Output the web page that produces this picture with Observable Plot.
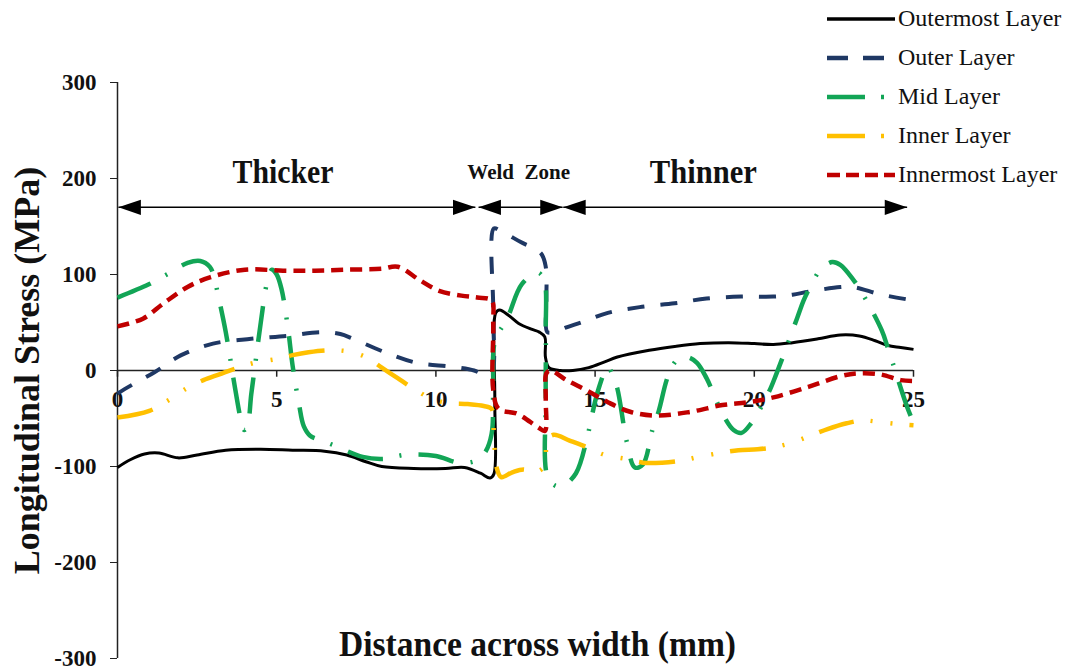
<!DOCTYPE html>
<html><head><meta charset="utf-8">
<script src="https://cdn.jsdelivr.net/npm/d3@7"></script>
<script src="https://cdn.jsdelivr.net/npm/@observablehq/plot@0.6"></script>
<style>
html,body{margin:0;padding:0;background:#fff;}
#wrap{position:relative;width:1069px;height:671px;font-family:"Liberation Serif","Times New Roman",serif;color:#111;}
#legend{position:absolute;left:826px;top:-1px;}
.row{display:flex;align-items:center;height:39px;}
.row span{font-size:24px;margin-left:2px;white-space:nowrap;}
</style></head><body><div id="wrap"><div id="legend"></div></div>
<script>
// ---- data ----
const seriesNames = ["Outermost Layer", "Outer Layer", "Mid Layer", "Inner Layer", "Innermost Layer"];

const outermost = [[0,-101],[0.4,-93],[0.85,-87],[1.3,-86],[1.9,-91],[2.5,-88],[3.4,-83],[4.5,-82],[5.5,-83],[6.5,-84],[7.2,-88],[7.8,-95],[8.3,-100],[9.3,-102],[10.3,-102],[10.9,-101],[11.4,-107],[11.7,-112],[11.82,-108],[11.85,-30],[11.88,60],[12.0,63],[12.3,57],[12.6,49],[13.0,43],[13.25,40],[13.42,35],[13.44,14],[13.55,3],[13.9,0],[14.3,0],[14.8,3],[15.3,9],[15.7,14],[16.7,21],[17.5,25],[18.3,28],[19.2,29],[20.0,28],[20.6,27],[21.2,29],[22.0,33],[22.7,37],[23.3,36],[23.8,31],[24.2,26],[24.6,24],[25,22]];

const outer = [[0,-24],[0.4,-16],[1.15,-2],[2.0,16],[3.0,28],[4.2,33],[5.3,36],[6.4,40],[7.0,38],[7.4,33],[8.4,19],[9.4,8],[10.5,4],[11.2,0],[11.55,-5],[11.75,-3],[11.8,60],[11.82,148],[12.0,146],[12.65,134],[13.3,122],[13.45,108],[13.47,70],[13.5,40],[13.7,40],[14.1,45],[14.55,50],[15.4,60],[16.4,66],[17.5,70],[18.5,75],[19.6,77],[20.6,77],[21.2,79],[21.7,82],[22.7,87],[23.1,87],[24.0,79],[25,73]];

const mid = [[0,76],[1.0,90],[1.6,101],[2.2,112],[2.6,114],[2.9,108],[3.05,95],[3.15,80],[3.4,40],[3.7,-20],[3.88,-52],[3.98,-62],[4.08,-58],[4.2,-25],[4.3,0],[4.5,50],[4.7,92],[4.85,105],[5.0,100],[5.15,85],[5.35,45],[5.5,5],[5.7,-35],[5.85,-58],[6.05,-68],[6.4,-73],[6.8,-78],[7.7,-90],[8.4,-92],[9.0,-88],[10.0,-89],[10.7,-96],[11.25,-94],[11.55,-85],[11.75,-66],[11.8,-20],[11.85,30],[12.25,55],[12.7,90],[13.2,102],[13.4,94],[13.45,40],[13.45,-30],[13.5,-110],[13.75,-120],[14.0,-120],[14.4,-107],[14.75,-70],[14.9,-47],[15.1,-20],[15.4,4],[15.55,-5],[15.7,-19],[16.0,-75],[16.25,-101],[16.5,-98],[16.8,-62],[17.0,-42],[17.3,-5],[17.6,12],[17.9,14],[18.2,8],[18.5,-8],[19.0,-45],[19.35,-62],[19.6,-65],[19.9,-55],[20.45,-23],[20.7,-3],[21.35,55],[21.55,73],[21.8,90],[22.1,106],[22.45,113],[22.7,110],[23.1,95],[23.4,80],[24.0,42],[24.2,23],[24.8,-38],[25.0,-54]];

const inner = [[0,-49],[1.0,-42],[1.6,-31],[2.15,-19],[2.7,-10],[3.2,-4],[3.7,2],[4.3,8],[5.0,12],[5.5,16],[6.0,19],[6.6,21],[7.2,20],[7.8,14],[8.3,3],[8.8,-8],[9.3,-19],[9.9,-30],[10.4,-34],[11.0,-35],[11.5,-37],[11.75,-40],[11.82,-66],[11.9,-100],[12.05,-111],[12.4,-106],[12.75,-103],[13.1,-106],[13.4,-100],[13.5,-72],[13.7,-67],[14.2,-73],[14.6,-78],[15.3,-88],[15.95,-92],[16.5,-96],[17.1,-96],[17.7,-94],[18.25,-90],[18.9,-86],[19.5,-83],[20.1,-82],[20.6,-80],[21.2,-75],[21.75,-68],[22.3,-61],[22.9,-55],[23.4,-52],[24.0,-54],[24.6,-56],[25.0,-57]];

const innermost = [[0,46],[0.8,54],[1.45,70],[2.2,87],[2.9,97],[4.0,105],[5.2,104],[6.2,104],[7.2,105],[8.3,106],[8.8,108],[9.5,94],[10.1,83],[10.8,78],[11.3,76],[11.75,73],[11.8,50],[11.8,-20],[11.97,-40],[12.55,-45],[13.2,-59],[13.42,-63],[13.45,-30],[13.47,-3],[13.6,0],[14.1,-10],[14.75,-21],[15.4,-33],[16.1,-43],[16.95,-47],[18.0,-43],[19.0,-36],[19.8,-33],[20.6,-28],[21.7,-17],[22.7,-6],[23.25,-3],[23.95,-4],[24.6,-10],[25,-11]];

const xTicks = [0, 5, 10, 15, 20, 25];
const yTicks = [-300, -200, -100, 0, 100, 200, 300];

const regionLabels = ["Thicker", "Weld\u00a0\u00a0Zone", "Thinner"];
const regionStart = [0.03, 11.34, 14.0];
const regionEnd = [11.24, 13.98, 24.8];
const regionLabelX = [5.2, 12.6, 18.4];
const arrowLevel = 170;
const labelLevel = 206;

const yTitle = "Longitudinal Stress (MPa)";
const xTitle = "Distance across width (mm)";

// ---- styles ----
const styles = [
  {stroke: "#000000", strokeWidth: 3, dash: null},
  {stroke: "#1f3864", strokeWidth: 4, dash: "17 16"},
  {stroke: "#12a556", strokeWidth: 4.5, dash: "36 17 2 17"},
  {stroke: "#ffc000", strokeWidth: 4.5, dash: "36 17 2 18 2 17"},
  {stroke: "#c00000", strokeWidth: 4.5, dash: "12 7"}
];
const legendDash = [null, "21 15", "38 16 3 40", "38 16 3 40", "13 6"];

const seriesPts = [outermost, outer, mid, inner, innermost];
const table = seriesPts.flatMap((pts, k) => pts.map(([x, y]) => ({series: seriesNames[k], x, y})));
const regions = regionLabels.map((label, i) => ({label, start: regionStart[i], end: regionEnd[i], lx: regionLabelX[i]}));

const triRight = {draw(ctx, size) { const r = Math.sqrt(size / Math.PI); const L = 2.8 * r, H = 0.95 * r; ctx.moveTo(0, 0); ctx.lineTo(-L, -H); ctx.lineTo(-L, H); ctx.closePath(); }};
const triLeft = {draw(ctx, size) { const r = Math.sqrt(size / Math.PI); const L = 2.8 * r, H = 0.95 * r; ctx.moveTo(0, 0); ctx.lineTo(L, -H); ctx.lineTo(L, H); ctx.closePath(); }};

const font = '"Liberation Serif","Times New Roman",serif';

const lineMarks = seriesNames.map((name, k) => Plot.line(table.filter(d => d.series === name), {
  x: "x", y: "y", curve: "catmull-rom",
  stroke: styles[k].stroke, strokeWidth: styles[k].strokeWidth,
  strokeDasharray: styles[k].dash || undefined, strokeLinecap: "butt", strokeLinejoin: "round"
}));

const chart = Plot.plot({
  width: 1069, height: 671,
  marginLeft: 117, marginRight: 156, marginTop: 82, marginBottom: 13,
  x: {domain: [0, 25], axis: null},
  y: {domain: [-300, 300], label: null},
  style: {fontFamily: font, background: "transparent", overflow: "visible", color: "#111"},
  marks: [
    Plot.axisY(yTicks, {tickSize: 7, tickPadding: 14, fontSize: 23, fontWeight: "bold", tickFormat: d => String(d), label: null, stroke: "#222"}),
    Plot.ruleX([0], {stroke: "#222", strokeWidth: 1.5}),
    Plot.ruleY([0], {stroke: "#222", strokeWidth: 1.5}),
    Plot.ruleX(xTicks, {x: d => d, y1: 0, y2: -7, stroke: "#222", strokeWidth: 1.5}),
    Plot.text(xTicks, {x: d => d, y: 0, dy: 29, text: d => String(d), fontSize: 23, fontWeight: "bold", fill: "#111"}),
    ...lineMarks,
    Plot.link(regions, {x1: "start", x2: "end", y1: arrowLevel, y2: arrowLevel, stroke: "#000", strokeWidth: 1.5}),
    Plot.dot(regions, {x: "end", y: arrowLevel, symbol: triRight, r: 8, fill: "#000", stroke: null}),
    Plot.dot(regions, {x: "start", y: arrowLevel, symbol: triLeft, r: 8, fill: "#000", stroke: null}),
    Plot.text(regions, {x: "lx", y: labelLevel, text: "label", fontSize: (d, i) => i === 1 ? 21 : 33, fontWeight: "bold", fill: "#111"}),
    Plot.text([yTitle], {text: d => d, frameAnchor: "left", textAnchor: "middle", dx: -90, rotate: -90, fontSize: 36, fontWeight: "bold", fill: "#111"}),
    Plot.text([xTitle], {text: d => d, frameAnchor: "bottom", textAnchor: "middle", dx: 22, dy: -3, fontSize: 36, fontWeight: "bold", fill: "#111"})
  ]
});
document.getElementById("wrap").prepend(chart);

// condense a few bold titles horizontally, as in the reference
const fitWidths = new Map([[xTitle, 397], ["Thicker", 101], ["Thinner", 107]]);
d3.select(chart).selectAll("text").each(function () {
  const w = fitWidths.get(this.textContent);
  if (w) { this.setAttribute("textLength", w); this.setAttribute("lengthAdjust", "spacingAndGlyphs"); }
});

// ---- legend ----
const legend = document.getElementById("legend");
seriesNames.forEach((name, k) => {
  const row = document.createElement("div");
  row.className = "row";
  const dash = legendDash[k] ? ` stroke-dasharray="${legendDash[k]}"` : "";
  row.innerHTML = `<svg width="70" height="20"><line x1="1" y1="10" x2="69" y2="10" stroke="${styles[k].stroke}" stroke-width="${k === 0 ? 3.5 : 4.5}"${dash}/></svg><span>${name}</span>`;
  legend.appendChild(row);
});
</script></body></html>
